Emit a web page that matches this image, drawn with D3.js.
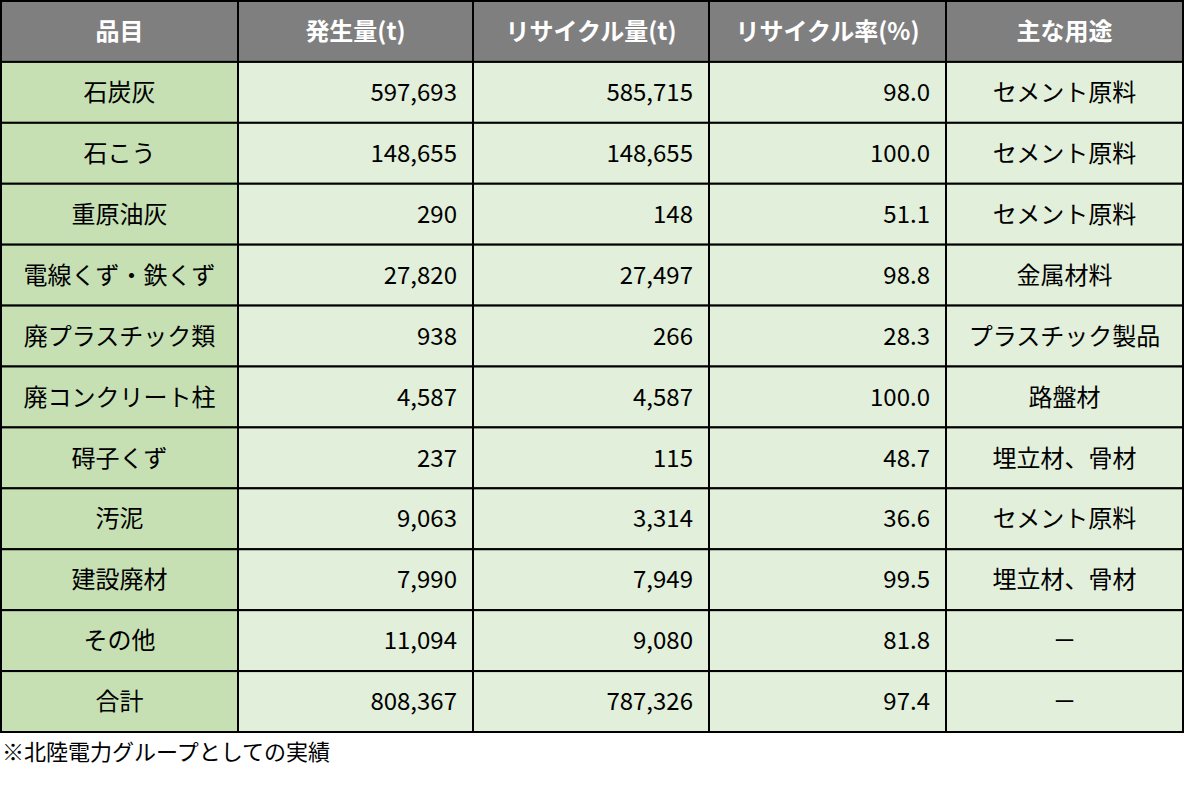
<!DOCTYPE html>
<html><head><meta charset="utf-8">
<script src="https://cdn.jsdelivr.net/npm/d3@7"></script>
<style>body{margin:0;background:#fff}</style>
</head><body><svg id="t" width="1185" height="786"></svg>
<script>
const headers = ["品目", "発生量(t)", "リサイクル量(t)", "リサイクル率(%)", "主な用途"];
const items = ["石炭灰", "石こう", "重原油灰", "電線くず・鉄くず", "廃プラスチック類", "廃コンクリート柱", "碍子くず", "汚泥", "建設廃材", "その他", "合計"];
const generated = [597693, 148655, 290, 27820, 938, 4587, 237, 9063, 7990, 11094, 808367];
const recycled = [585715, 148655, 148, 27497, 266, 4587, 115, 3314, 7949, 9080, 787326];
const rates = [98.0, 100.0, 51.1, 98.8, 28.3, 100.0, 48.7, 36.6, 99.5, 81.8, 97.4];
const uses = ["セメント原料", "セメント原料", "セメント原料", "金属材料", "プラスチック製品", "路盤材", "埋立材、骨材", "セメント原料", "埋立材、骨材", "－", "－"];
const note = "※北陸電力グループとしての実績";

const svg = d3.select("#t");
const font = "'Noto Sans CJK JP', sans-serif";
const colEdges = [1, 238, 473, 709, 946, 1183];
const x = d3.scaleOrdinal().domain(d3.range(5)).range(colEdges.slice(0, 5));
const y = d3.scaleBand().domain(d3.range(items.length + 1)).range([1, 732]);
const fmt = d3.format(",");

const rows = items.map((d, i) => [d, fmt(generated[i]), fmt(recycled[i]), rates[i].toFixed(1), uses[i]]);
const cells = [];
headers.forEach((h, c) => cells.push({ r: 0, c, text: h }));
rows.forEach((row, r) => row.forEach((v, c) => cells.push({ r: r + 1, c, text: v })));

const g = svg.selectAll("g.cell").data(cells).join("g").attr("class", "cell")
  .attr("transform", d => `translate(${x(d.c)},${y(d.r)})`);

g.append("rect")
  .attr("width", d => colEdges[d.c + 1] - colEdges[d.c])
  .attr("height", y.bandwidth())
  .attr("fill", d => d.r === 0 ? "#7f7f7f" : d.c === 0 ? "#c6e0b4" : "#e2efda")
  .attr("stroke", "#000").attr("stroke-width", 2);

g.append("text")
  .attr("x", d => {
    const w = colEdges[d.c + 1] - colEdges[d.c];
    return d.r > 0 && d.c >= 1 && d.c <= 3 ? w - 16 : w / 2;
  })
  .attr("y", y.bandwidth() / 2)
  .attr("dy", "0.36em")
  .attr("text-anchor", d => d.r > 0 && d.c >= 1 && d.c <= 3 ? "end" : "middle")
  .attr("font-family", font)
  .attr("font-size", 24)
  .attr("font-weight", d => d.r === 0 ? "bold" : "normal")
  .attr("fill", d => d.r === 0 ? "#fff" : "#000")
  .text(d => d.text);

svg.append("text").attr("x", 2).attr("y", 760)
  .attr("font-family", font).attr("font-size", 22).text(note);
</script></body></html>
